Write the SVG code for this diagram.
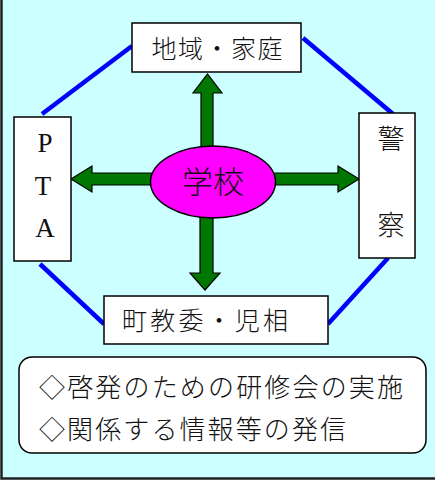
<svg xmlns="http://www.w3.org/2000/svg" width="435" height="480" viewBox="0 0 435 480">
<defs>
<style>
.box{fill:#fff;stroke:#000;stroke-width:1.5}
.jp{font-family:"Noto Sans CJK JP","Noto Sans CJK SC",sans-serif;fill:#111;font-weight:300}
.lat{font-family:"Liberation Serif",serif;fill:#111}
.link{stroke:#0000FF;stroke-width:4.5;fill:none}
.arr{fill:#007700;stroke:#000;stroke-width:1.2;stroke-linejoin:miter}
</style>
</defs>
<rect x="0" y="0" width="435" height="480" fill="#CCFFFF"/>
<path d="M1.5,0 V478.5 H435" fill="none" stroke="#222" stroke-width="2.5"/>
<g id="connectors">
<line class="link" x1="42" y1="114" x2="132" y2="46"/>
<line class="link" x1="303" y1="38" x2="393" y2="114"/>
<line class="link" x1="40" y1="264" x2="104" y2="324"/>
<line class="link" x1="388" y1="258" x2="328" y2="324"/>
<polygon class="arr" points="201,160 201,93 193,93 207.5,74 222,93 213,93 213,160"/>
<polygon class="arr" points="160,173 92,173 92,166 71,179 92,192 92,185 160,185"/>
<polygon class="arr" points="270,173 338,173 338,166 359,179 338,192 338,185 270,185"/>
<polygon class="arr" points="200,210 200,273 190,273 205,290 220,273 213,273 213,210"/>
</g>
<g id="school">
<ellipse cx="213" cy="182" rx="62.5" ry="36" fill="#FF00FF" stroke="#000" stroke-width="1.5"/>
<text class="jp" x="213" y="193" font-size="31" text-anchor="middle">学校</text>
</g>
<g id="chiiki">
<rect class="box" x="132" y="23" width="169" height="49"/>
<text class="jp" x="217" y="58" font-size="25" text-anchor="middle" textLength="131" lengthAdjust="spacing">地域・家庭</text>
</g>
<g id="pta">
<rect class="box" x="14" y="117" width="57" height="144"/>
<text class="lat" x="45" y="152" font-size="27" text-anchor="middle">P</text>
<text class="lat" x="43" y="195" font-size="27" text-anchor="middle">T</text>
<text class="lat" x="45" y="237" font-size="27" text-anchor="middle">A</text>
</g>
<g id="keisatsu">
<rect class="box" x="359" y="113" width="56" height="145"/>
<text class="jp" x="391" y="149" font-size="27" text-anchor="middle">警</text>
<text class="jp" x="391" y="235" font-size="27" text-anchor="middle">察</text>
</g>
<g id="machi">
<rect class="box" x="104" y="296" width="224" height="48"/>
<text class="jp" x="122" y="330" font-size="25" textLength="166" lengthAdjust="spacing">町教委・児相</text>
</g>
<g id="notes">
<rect class="box" x="19" y="357" width="407" height="96" rx="13"/>
<text class="jp" x="39" y="397" font-size="26" textLength="364" lengthAdjust="spacing">◇啓発のための研修会の実施</text>
<text class="jp" x="39" y="439" font-size="26" textLength="307" lengthAdjust="spacing">◇関係する情報等の発信</text>
</g>
</svg>
